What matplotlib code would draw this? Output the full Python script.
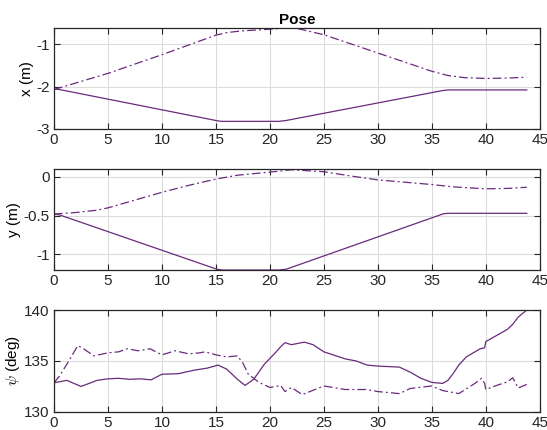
import numpy as np
import matplotlib.pyplot as plt

plt.rcParams['font.family'] = ['Liberation Sans', 'DejaVu Sans']
plt.rcParams['mathtext.fontset'] = 'cm'

# x position (m)
t_x_ref = [0, 5, 10, 15, 16, 17, 18, 20, 21.5, 22.5, 25, 30, 35, 36.5, 38, 40, 42, 43.8]
x_ref = [-2.07, -1.69, -1.25, -0.79, -0.73, -0.7, -0.68, -0.65, -0.62, -0.63, -0.78, -1.21,
         -1.64, -1.74, -1.79, -1.81, -1.8, -1.78]
t_x_act = [0, 0.5, 15.2, 15.6, 20.8, 21.5, 36.1, 36.6, 43.8]
x_act = [-2.06, -2.07, -2.81, -2.82, -2.82, -2.8, -2.09, -2.08, -2.08]

# y position (m)
t_y_ref = [0, 2, 4, 5, 7.5, 10, 12.5, 15, 17, 20, 22, 25, 27.5, 30, 35, 37, 40, 42, 43.8]
y_ref = [-0.48, -0.46, -0.43, -0.4, -0.3, -0.2, -0.11, -0.03, 0.02, 0.06, 0.09, 0.065, 0.01,
         -0.04, -0.1, -0.13, -0.155, -0.15, -0.135]
t_y_act = [0, 0.5, 15.1, 15.6, 20.8, 21.5, 36.1, 36.6, 43.8]
y_act = [-0.48, -0.49, -1.19, -1.2, -1.2, -1.19, -0.475, -0.47, -0.47]

# heading (deg)
t_psi_act = [0, 1.2, 2.5, 4, 5, 6, 7, 8, 9, 10, 11.5, 13, 14.2, 15.2, 16, 17, 17.7, 18.5,
             19.5, 20.5, 21, 21.4, 22, 23.2, 24, 25, 27, 28, 29, 30, 32, 33, 34, 35, 36,
             36.5, 37, 37.5, 38.2, 39, 39.5, 39.9, 40, 41, 42, 42.5, 43, 43.8]
psi_act = [132.86, 133.1, 132.5, 133.1, 133.25, 133.3, 133.2, 133.25, 133.15, 133.7, 133.75,
           134.1, 134.3, 134.6, 134.2, 133.2, 132.6, 133.2, 134.7, 135.8, 136.4, 136.8, 136.6,
           136.85, 136.6, 135.9, 135.2, 135.0, 134.6, 134.5, 134.4, 133.9, 133.3, 132.9, 132.8,
           133.1, 133.8, 134.6, 135.4, 135.9, 136.2, 136.3, 136.9, 137.5, 138.1, 138.6, 139.3, 140.0]
t_psi_ref = [0, 0.5, 1.2, 2.2, 2.6, 3.7, 5, 6, 6.8, 7.8, 8.9, 10, 11.2, 12.5, 13.5, 14, 15,
             16, 17, 17.5, 18, 19, 20, 21, 21.4, 22, 23, 25, 27, 29, 30, 32, 33, 35, 36,
             37.5, 39, 39.6, 39.9, 40, 41, 42, 42.5, 43, 43.8]
psi_ref = [132.86, 133.5, 134.7, 136.5, 136.3, 135.5, 135.8, 135.9, 136.2, 136.0, 136.2, 135.6,
           136.0, 135.7, 135.8, 135.9, 135.6, 135.4, 135.5, 134.8, 133.7, 132.9, 132.4, 132.6,
           132.0, 132.4, 131.7, 132.55, 132.2, 132.2, 132.0, 131.8, 132.3, 132.55, 132.1,
           131.8, 132.8, 133.3, 132.8, 132.2, 132.6, 132.95, 133.35, 132.35, 132.7]

color = '#6A2A7C'
dashdot = (0, (7, 2.5, 1.5, 2.5))

fig = plt.figure(figsize=(5.47, 4.30), dpi=100)
L, W = 0.0987, 0.888
ax1 = fig.add_axes([L, 0.700, W, 0.235])
ax2 = fig.add_axes([L, 0.372, W, 0.235])
ax3 = fig.add_axes([L, 0.042, W, 0.237])

ax1.plot(t_x_ref, x_ref, color=color, lw=0.9, linestyle=dashdot)
ax1.plot(t_x_act, x_act, color=color, lw=0.9)
ax1.set_ylim(-3, -0.62)
ax1.set_yticks([-3, -2, -1])
ax1.set_ylabel('x (m)')
ax1.set_title('Pose', fontweight='bold', fontsize=11, pad=3)

ax2.plot(t_y_ref, y_ref, color=color, lw=0.9, linestyle=dashdot)
ax2.plot(t_y_act, y_act, color=color, lw=0.9)
ax2.set_ylim(-1.2, 0.1)
ax2.set_yticks([-1, -0.5, 0])
ax2.set_yticklabels(['-1', '-0.5', '0'])
ax2.set_ylabel('y (m)')

ax3.plot(t_psi_ref, psi_ref, color=color, lw=0.9, linestyle=dashdot)
ax3.plot(t_psi_act, psi_act, color=color, lw=0.9)
ax3.set_ylim(130, 140)
ax3.set_yticks([130, 135, 140])
ax3.set_ylabel(r'$\psi$ (deg)')

for ax in (ax1, ax2, ax3):
    ax.set_xlim(0, 45)
    ax.set_xticks(np.arange(0, 46, 5))
    ax.grid(True, color='#dcdcdc', lw=0.8)
    ax.set_axisbelow(True)
    ax.tick_params(direction='in', top=True, right=True, length=4, width=0.8,
                   labelsize=11, colors='#262626', pad=3)
    for s in ax.spines.values():
        s.set_color('#262626')
        s.set_linewidth(0.9)
    ax.yaxis.label.set_size(11)
    ax.yaxis.labelpad = 2
    ax.set_yticklabels([lbl.get_text().replace('\u2212', '-') for lbl in ax.get_yticklabels()])

fig.savefig('out.png', dpi=100)
